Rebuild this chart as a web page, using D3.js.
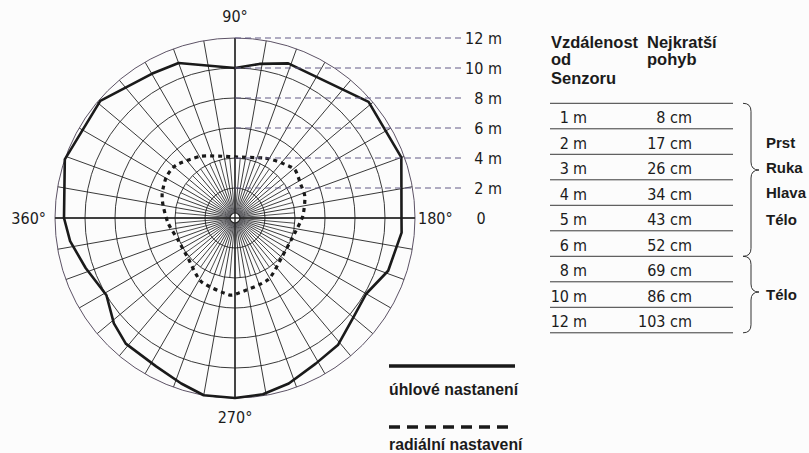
<!DOCTYPE html>
<html>
<head>
<meta charset="utf-8">
<script src="https://cdn.jsdelivr.net/npm/d3@7"></script>
<style>
  body { margin: 0; background: #fcfcfc; }
  svg { display: block; }
  .narrow { font-family: "Liberation Sans Narrow", "DejaVu Sans Condensed", "Liberation Sans", sans-serif; fill: #1b1b1b; }
  .bold { font-family: "Liberation Sans", Arial, sans-serif; font-weight: bold; fill: #1b1b1b; }
</style>
</head>
<body>
<svg id="chart" width="809" height="453"></svg>
<script>
// Distance rings of the detection diagram (metres)
const distanceTicks = [2, 4, 6, 8, 10, 12];
const distanceLabels = ["2 m", "4 m", "6 m", "8 m", "10 m", "12 m"];

// Compass labels around the diagram (degrees)
const compassAngles = [90, 180, 270, 360];
const compassTexts = ["90°", "180°", "270°", "360°"];

// Angular (tangential) motion detection reach: angle in degrees, reach in metres
const angularAngles = [90, 99, 109, 139, 160, 180, 185, 199, 210, 220, 231, 241, 252, 261, 270, 280, 288, 298, 311, 319, 329, 333, 341.5, 352, 360, 379, 401, 420, 430];
const angularReach  = [10.0, 10.4, 10.9, 11.8, 11.8, 11.1, 11.15, 10.8, 10.1, 10.3, 10.9, 11.1, 11.6, 11.9, 12.0, 12.0, 11.6, 11.2, 11.1, 10.7, 10.0, 10.1, 10.5, 11.1, 11.4, 12.0, 11.9, 11.1, 11.0];

// Radial motion detection reach
const radialAngles = [90, 117, 130, 141, 152, 163, 178, 193, 220, 242, 267, 275, 298, 319, 339, 355.5, 370, 379, 391, 402, 420, 435];
const radialReach  = [4.07, 4.47, 4.8, 5.13, 4.93, 4.87, 4.53, 4.13, 4.07, 4.67, 5.0, 5.13, 4.8, 4.13, 4.07, 4.47, 4.87, 5.13, 5.33, 5.27, 4.73, 4.27];

// Table: distance from sensor and smallest detectable movement
const tableDistance = ["1", "2", "3", "4", "5", "6", "8", "10", "12"];
const tableMovement = ["8 cm", "17 cm", "26 cm", "34 cm", "43 cm", "52 cm", "69 cm", "86 cm", "103 cm"];
const nearGroupLabels = ["Prst", "Ruka", "Hlava", "Télo"];
const farGroupLabels = ["Télo"];

const svg = d3.select("#chart");
const cx = 235, cy = 218;

const r = d3.scaleLinear().domain([0, 12]).range([0, 180]);
// compass angle (90° on top, 180° right) -> radians clockwise from top
const ang = d3.scaleLinear().domain([90, 450]).range([0, 2 * Math.PI]);

const polar = svg.append("g").attr("transform", `translate(${cx},${cy})`);

// --- grid -------------------------------------------------------------
const grid = polar.append("g").attr("fill", "none");

// rays every 10°
d3.range(0, 360, 10).forEach(a => {
  const t = ang(a);
  grid.append("line")
    .attr("x1", Math.sin(t) * 5).attr("y1", -Math.cos(t) * 5)
    .attr("x2", Math.sin(t) * r(12)).attr("y2", -Math.cos(t) * r(12))
    .attr("stroke", "#222").attr("stroke-width", 0.9);
});
// denser rays near the sensor
d3.range(5, 360, 10).forEach(a => {
  const t = ang(a);
  grid.append("line")
    .attr("x1", Math.sin(t) * 5).attr("y1", -Math.cos(t) * 5)
    .attr("x2", Math.sin(t) * r(4)).attr("y2", -Math.cos(t) * r(4))
    .attr("stroke", "#222").attr("stroke-width", 0.8);
});

// faint halo round the sensor
const halo = svg.append("defs").append("radialGradient").attr("id", "halo");
halo.append("stop").attr("offset", "0%").attr("stop-color", "#9a9aa6").attr("stop-opacity", 0.55);
halo.append("stop").attr("offset", "100%").attr("stop-color", "#9a9aa6").attr("stop-opacity", 0);
grid.append("circle").attr("r", 22).attr("fill", "url(#halo)");

// rings
grid.selectAll("circle.ring")
  .data(distanceTicks.filter(d => d < 12))
  .join("circle")
  .attr("class", "ring")
  .attr("r", d => r(d))
  .attr("stroke", "#222").attr("stroke-width", 0.9);
grid.append("circle").attr("r", r(12)).attr("stroke", "#5d5366").attr("stroke-width", 1);
grid.append("circle").attr("r", 5).attr("fill", "#fcfcfc").attr("stroke", "#222").attr("stroke-width", 1.2);

// main axes
grid.append("line").attr("x1", -r(12)).attr("x2", r(12)).attr("y1", 0).attr("y2", 0)
  .attr("stroke", "#222").attr("stroke-width", 1.4);
grid.append("line").attr("y1", -r(12)).attr("y2", r(12)).attr("x1", 0).attr("x2", 0)
  .attr("stroke", "#222").attr("stroke-width", 1.4);

// --- distance guides ---------------------------------------------------
const guides = svg.append("g");
distanceTicks.forEach((d, i) => {
  guides.append("line")
    .attr("x1", cx).attr("x2", 462)
    .attr("y1", cy - r(d)).attr("y2", cy - r(d))
    .attr("stroke", "#635a86").attr("stroke-width", 1)
    .attr("stroke-dasharray", "6,4");
  guides.append("text").attr("class", "narrow")
    .attr("x", 502).attr("y", cy - r(d) + 6)
    .attr("text-anchor", "end").attr("font-size", 16)
    .text(distanceLabels[i]);
});
guides.append("text").attr("class", "narrow")
  .attr("x", 481).attr("y", cy + 6).attr("text-anchor", "middle").attr("font-size", 16)
  .text("0");

// --- compass labels ----------------------------------------------------
const compassPos = {
  90:  { x: cx, y: cy - 196, anchor: "middle" },
  180: { x: 418, y: cy + 6, anchor: "start" },
  270: { x: cx, y: cy + 205, anchor: "middle" },
  360: { x: 46, y: cy + 6, anchor: "end" }
};
compassAngles.forEach((a, i) => {
  const p = compassPos[a];
  svg.append("text").attr("class", "narrow")
    .attr("x", p.x).attr("y", p.y).attr("text-anchor", p.anchor)
    .attr("font-size", 16).text(compassTexts[i]);
});

// --- detection curves --------------------------------------------------
const radial = d3.lineRadial()
  .angle(d => ang(d[0]))
  .radius(d => r(d[1]))
  .curve(d3.curveLinearClosed);

polar.append("path")
  .attr("d", radial(angularAngles.map((a, i) => [a, angularReach[i]])))
  .attr("fill", "none").attr("stroke", "#1a1a1a").attr("stroke-width", 2.6)
  .attr("stroke-linejoin", "round");

polar.append("path")
  .attr("d", d3.lineRadial().angle(d => ang(d[0])).radius(d => r(d[1])).curve(d3.curveCardinalClosed.tension(0.3))
    (radialAngles.map((a, i) => [a, radialReach[i]])))
  .attr("fill", "none").attr("stroke", "#1a1a1a").attr("stroke-width", 3.2)
  .attr("stroke-dasharray", "4,4");

// --- legend ------------------------------------------------------------
const legend = svg.append("g");
legend.append("line").attr("x1", 389).attr("x2", 515).attr("y1", 366).attr("y2", 366)
  .attr("stroke", "#1a1a1a").attr("stroke-width", 3.5);
legend.append("text").attr("class", "bold").attr("x", 389).attr("y", 395)
  .attr("font-size", 15.8).text("úhlové nastanení");
legend.append("line").attr("x1", 389).attr("x2", 515).attr("y1", 427).attr("y2", 427)
  .attr("stroke", "#1a1a1a").attr("stroke-width", 3.5).attr("stroke-dasharray", "11,7");
legend.append("text").attr("class", "bold").attr("x", 389).attr("y", 450)
  .attr("font-size", 15.8).text("radiální nastavení");

// --- table -------------------------------------------------------------
const table = svg.append("g");
const headL = ["Vzdálenost", "od", "Senzoru"];
const headR = ["Nejkratší", "pohyb"];
const headY = [48, 65, 84];
headL.forEach((t, i) => table.append("text").attr("class", "bold").attr("x", 551).attr("y", headY[i]).attr("font-size", 16.5).text(t));
headR.forEach((t, i) => table.append("text").attr("class", "bold").attr("x", 647).attr("y", headY[i]).attr("font-size", 16.5).text(t));

const rowY = d3.scaleLinear().domain([0, 9]).range([103.3, 332.8]);
d3.range(10).forEach(i => {
  table.append("line").attr("x1", 550).attr("x2", 733)
    .attr("y1", rowY(i)).attr("y2", rowY(i))
    .attr("stroke", "#3a3a3a").attr("stroke-width", 1);
});
tableDistance.forEach((d, i) => {
  const y = rowY(i) + 20;
  table.append("text").attr("class", "narrow").attr("x", 569).attr("y", y)
    .attr("text-anchor", "end").attr("font-size", 16).text(d);
  table.append("text").attr("class", "narrow").attr("x", 573).attr("y", y)
    .attr("font-size", 16).text("m");
  table.append("text").attr("class", "narrow").attr("x", 692).attr("y", y)
    .attr("text-anchor", "end").attr("font-size", 16).text(tableMovement[i]);
});

// braces grouping the rows
function brace(y0, y1, ym) {
  const xl = 743, xv = 751, xp = 759;
  return `M${xl},${y0} Q${xv},${y0} ${xv},${y0 + 8} L${xv},${ym - 8} Q${xv},${ym} ${xp},${ym} ` +
         `Q${xv},${ym} ${xv},${ym + 8} L${xv},${y1 - 8} Q${xv},${y1} ${xl},${y1}`;
}
table.append("path").attr("d", brace(rowY(0), rowY(6), 170))
  .attr("fill", "none").attr("stroke", "#333").attr("stroke-width", 1);
table.append("path").attr("d", brace(rowY(6), rowY(9), 292))
  .attr("fill", "none").attr("stroke", "#333").attr("stroke-width", 1);

const nearY = [148, 173, 198, 225];
nearGroupLabels.forEach((t, i) => table.append("text").attr("class", "bold")
  .attr("x", 766).attr("y", nearY[i]).attr("font-size", 15).text(t));
farGroupLabels.forEach(t => table.append("text").attr("class", "bold")
  .attr("x", 766).attr("y", 300).attr("font-size", 15).text(t));
</script>
</body>
</html>
